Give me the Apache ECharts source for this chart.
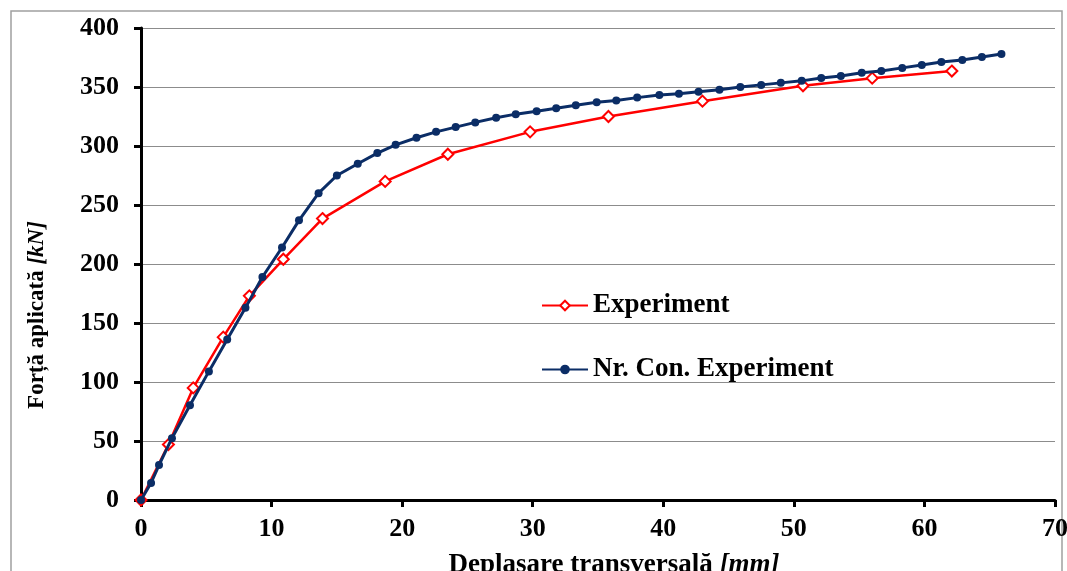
<!DOCTYPE html>
<html>
<head>
<meta charset="utf-8">
<script src="https://cdn.jsdelivr.net/npm/echarts@6/dist/echarts.min.js"></script>
<style>
  html, body { margin: 0; padding: 0; background: #fff; }
  #chart { width: 1067px; height: 571px; }
</style>
</head>
<body>
<div id="chart"></div>
<script>
// displacement [mm] / force [kN]
var expX = [0, 2.1, 4.0, 6.3, 8.3, 10.9, 13.9, 18.7, 23.5, 29.8, 35.8, 43.0, 50.7, 56.0, 62.1];
var expY = [0, 47, 95, 138, 173, 204, 238.5, 270, 293, 312, 325, 338, 351, 357.5, 363.5];

var numX = [0, 0.77, 1.38, 2.37, 3.75, 5.2, 6.6, 8.0, 9.3, 10.8, 12.1, 13.6, 15.0, 16.6, 18.1, 19.5,
            21.1, 22.6, 24.1, 25.6, 27.2, 28.7, 30.3, 31.8, 33.3, 34.9, 36.4, 38.0, 39.7, 41.2, 42.7,
            44.3, 45.9, 47.5, 49.0, 50.6, 52.1, 53.6, 55.2, 56.7, 58.3, 59.8, 61.3, 62.9, 64.4, 65.9];
var numY = [0, 14.4, 29.6, 52.4, 80.3, 109, 136, 163, 189, 214, 237, 260, 275, 285, 294, 301,
            307, 312, 316, 320, 324, 327, 329.5, 332, 334.5, 337, 338.5, 341, 343.3, 344.2, 345.9,
            347.6, 350, 351.8, 353.5, 355.2, 357.7, 359.4, 362, 363.6, 366.2, 368.7, 371.2, 372.9, 375.5, 378];

var seriesNames = ['Experiment', 'Nr. Con. Experiment'];

function pairs(xs, ys) {
    return xs.map(function (x, i) { return [x, ys[i]]; });
}

var font = '"Liberation Serif", "Times New Roman", serif';

var option = {
    animation: false,
    backgroundColor: '#fff',
    textStyle: { fontFamily: font },
    graphic: [{
        type: 'rect',
        shape: { x: 11, y: 11, width: 1051, height: 600 },
        style: { fill: 'none', stroke: '#a0a0a0', lineWidth: 1.5 },
        silent: true
    }],
    grid: { left: 141, right: 12, top: 28, bottom: 71, outerBoundsMode: 'none' },
    legend: {
        orient: 'vertical',
        left: 536,
        top: 287,
        itemGap: 37,
        itemWidth: 46,
        itemHeight: 12,
        textStyle: { fontFamily: font, fontWeight: 'bold', fontSize: 27, color: '#000' },
        data: seriesNames
    },
    xAxis: {
        type: 'value',
        min: 0, max: 70, interval: 10,
        name: '{b|Deplasare transversală }{i|[mm]}',
        nameLocation: 'middle',
        nameGap: 52,
        nameTextStyle: {
            padding: [0, 0, 0, 32],
            rich: {
                b: { fontFamily: font, fontWeight: 'bold', fontSize: 27, color: '#000' },
                i: { fontFamily: font, fontWeight: 'bold', fontStyle: 'italic', fontSize: 27, color: '#000' }
            }
        },
        axisLine: { show: true, onZero: false, lineStyle: { color: '#000', width: 3 } },
        axisTick: { show: true, length: 7, lineStyle: { color: '#000', width: 3 } },
        axisLabel: { fontFamily: font, fontWeight: 'bold', fontSize: 26, color: '#000', margin: 16 },
        splitLine: { show: false }
    },
    yAxis: {
        type: 'value',
        min: 0, max: 400, interval: 50,
        name: '{b|Forță aplicată }{i|[kN]}',
        nameLocation: 'middle',
        nameGap: 92,
        nameRotate: 90,
        nameTextStyle: {
            padding: [0, 102, 0, 0],
            rich: {
                b: { fontFamily: font, fontWeight: 'bold', fontSize: 23, color: '#000' },
                i: { fontFamily: font, fontWeight: 'bold', fontStyle: 'italic', fontSize: 23, color: '#000' }
            }
        },
        axisLine: { show: true, lineStyle: { color: '#000', width: 3 } },
        axisTick: { show: true, length: 7, lineStyle: { color: '#000', width: 3 } },
        axisLabel: { fontFamily: font, fontWeight: 'bold', fontSize: 26, color: '#000', margin: 22 },
        splitLine: { show: true, lineStyle: { color: '#8c8c8c', width: 1.2 } }
    },
    series: [{
        name: seriesNames[0],
        type: 'line',
        data: pairs(expX, expY),
        symbol: 'emptyDiamond',
        symbolSize: 11,
        color: '#ff0000',
        lineStyle: { color: '#ff0000', width: 2.5 },
        itemStyle: { color: '#ff0000', borderColor: '#ff0000', borderWidth: 1.5 },
        z: 3
    }, {
        name: seriesNames[1],
        type: 'line',
        data: pairs(numX, numY),
        symbol: 'circle',
        symbolSize: 8,
        color: '#0b2d66',
        lineStyle: { color: '#0b2d66', width: 3 },
        itemStyle: { color: '#0b2d66' },
        z: 4
    }]
};

var chart = echarts.init(document.getElementById('chart'));
chart.setOption(option);
</script>
</body>
</html>
